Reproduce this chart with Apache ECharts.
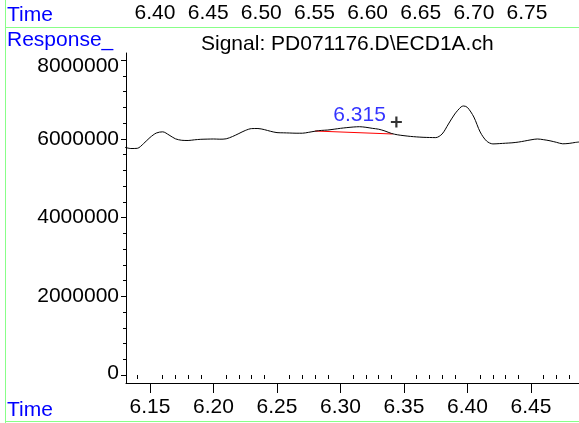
<!DOCTYPE html>
<html>
<head>
<meta charset="utf-8">
<script src="https://cdn.jsdelivr.net/npm/echarts@6/dist/echarts.min.js"></script>
<style>
  html, body { margin: 0; padding: 0; background: #fff; }
  #chart { width: 579px; height: 423px; }
</style>
</head>
<body>
<div id="chart"></div>
<script>
// retention time (min) and detector response
const times = [
  6.130, 6.135, 6.140, 6.145, 6.150, 6.155, 6.160, 6.165, 6.170, 6.175,
  6.180, 6.185, 6.190, 6.195, 6.200, 6.205, 6.210, 6.215, 6.220, 6.225,
  6.230, 6.235, 6.240, 6.245, 6.250, 6.255, 6.260, 6.265, 6.270, 6.275,
  6.280, 6.285, 6.290, 6.295, 6.300, 6.305, 6.310, 6.315, 6.320, 6.325,
  6.330, 6.335, 6.340, 6.345, 6.350, 6.355, 6.360, 6.365, 6.370, 6.375,
  6.380, 6.385, 6.390, 6.395, 6.397, 6.400, 6.405, 6.410, 6.415, 6.420,
  6.425, 6.430, 6.435, 6.440, 6.445, 6.450, 6.455, 6.460, 6.465, 6.470,
  6.475, 6.480, 6.485, 6.490
];
const response = [
  5785000, 5752000, 5757000, 5879000, 6032000, 6146000, 6176000, 6095000, 5999000, 5961000,
  5956000, 5973000, 5986000, 5991000, 5994000, 5989000, 5999000, 6057000, 6133000, 6210000,
  6258000, 6260000, 6232000, 6189000, 6156000, 6151000, 6146000, 6141000, 6141000, 6164000,
  6192000, 6212000, 6222000, 6243000, 6265000, 6283000, 6298000, 6306000, 6291000, 6265000,
  6243000, 6197000, 6136000, 6100000, 6078000, 6060000, 6047000, 6037000, 6032000, 6029000,
  6121000, 6375000, 6629000, 6811000, 6832000, 6794000, 6552000, 6171000, 5943000, 5869000,
  5877000, 5887000, 5897000, 5915000, 5943000, 5973000, 5994000, 5976000, 5948000, 5910000,
  5872000, 5882000, 5907000, 5925000
];

// integration baseline under the 6.315 peak
const baselineTimes = [6.280, 6.341];
const baselineValues = [6197000, 6121000];

// peak label and end marker
const peakTimes = [6.315];
const peakValues = [6306000];
const peakNames = ["6.315"];
const crossTimes = [6.344];
const crossValues = [6425000];

// axis ticks
const xMajorTicks = [6.15, 6.20, 6.25, 6.30, 6.35, 6.40, 6.45];
const xMinorTicks = [
  6.14, 6.16, 6.17, 6.18, 6.19, 6.21, 6.22, 6.23, 6.24, 6.26, 6.27, 6.28, 6.29,
  6.31, 6.32, 6.33, 6.34, 6.36, 6.37, 6.38, 6.39, 6.41, 6.42, 6.43, 6.44,
  6.46, 6.47, 6.48
];
const yMajorTicks = [0, 2000000, 4000000, 6000000, 8000000];
const yMinorTicks = [
  400000, 800000, 1200000, 1600000, 2400000, 2800000, 3200000, 3600000,
  4400000, 4800000, 5200000, 5600000, 6400000, 6800000, 7200000, 7600000
];
// time labels of the panel above (cut off)
const topTimeLabels = [6.40, 6.45, 6.50, 6.55, 6.60, 6.65, 6.70, 6.75];

const FONT = "Liberation Sans";
const GREEN = "#88ff88";
const BLUE = "#0000ff";

const chart = echarts.init(document.getElementById("chart"), null, { renderer: "canvas" });

const xRange = { min: 6.1311, max: 6.4878 };
const yRange = { min: -203000, max: 8178000 };

const textStyle = (color) => ({ fontFamily: FONT, fontSize: 21, fontWeight: "normal", color });

const option = {
  animation: false,
  backgroundColor: "#fff",
  title: [
    { text: "Signal: PD071176.D\\ECD1A.ch", left: 201, top: 34, padding: 0, textStyle: textStyle("#000") },
    { text: "Time", left: 7, top: 5, padding: 0, textStyle: textStyle(BLUE) },
    { text: "Response_", left: 7, top: 30, padding: 0, textStyle: textStyle(BLUE) },
    { text: "Time", left: 7, top: 400, padding: 0, textStyle: textStyle(BLUE) }
  ],
  grid: [
    { left: 126, right: 0, top: 53, bottom: 40 },
    { left: 126, right: 0, top: 0, height: 1 }
  ],
  xAxis: [
    {
      type: "value", gridIndex: 0, position: "bottom", ...xRange,
      splitLine: { show: false },
      axisLine: { show: true, onZero: false, lineStyle: { color: "#000", width: 1 } },
      axisTick: { show: true, customValues: xMajorTicks, length: 10, lineStyle: { color: "#000" } },
      axisLabel: {
        customValues: xMajorTicks, margin: 14, color: "#000", fontFamily: FONT, fontSize: 21,
        formatter: (v) => v.toFixed(2)
      }
    },
    {
      type: "value", gridIndex: 0, position: "bottom", ...xRange,
      splitLine: { show: false },
      axisLine: { show: false },
      axisTick: { show: true, customValues: xMinorTicks, length: 4, lineStyle: { color: "#000" } },
      axisLabel: { show: false }
    },
    {
      type: "value", gridIndex: 1, position: "bottom", min: 6.3727, max: 6.7989,
      splitLine: { show: false },
      axisLine: { show: false },
      axisTick: { show: false },
      axisLabel: {
        customValues: topTimeLabels, margin: 2, color: "#000", fontFamily: FONT, fontSize: 21,
        formatter: (v) => v.toFixed(2)
      }
    }
  ],
  yAxis: [
    {
      type: "value", gridIndex: 0, position: "left", ...yRange,
      splitLine: { show: false },
      axisLine: { show: true, onZero: false, lineStyle: { color: "#000", width: 1 } },
      axisTick: { show: true, customValues: yMajorTicks, length: 5, lineStyle: { color: "#000" } },
      axisLabel: {
        customValues: yMajorTicks, margin: 7, color: "#000", fontFamily: FONT, fontSize: 21,
        // the top and bottom labels are nudged inward like in the instrument printout
        formatter: (v) => (v === 8000000 ? "{dn|" + v + "}" : v === 0 ? "{up|" + v + "}" : String(v)),
        rich: {
          dn: { fontFamily: FONT, fontSize: 21, color: "#000", padding: [12, 0, 0, 0] },
          up: { fontFamily: FONT, fontSize: 21, color: "#000", padding: [0, 0, 4, 0] }
        }
      }
    },
    {
      type: "value", gridIndex: 0, position: "left", ...yRange,
      splitLine: { show: false },
      axisLine: { show: false },
      axisTick: { show: true, customValues: yMinorTicks, length: 3, lineStyle: { color: "#000" } },
      axisLabel: { show: false }
    },
    { type: "value", gridIndex: 1, show: false, min: 0, max: 1 }
  ],
  series: [
    {
      name: "signal",
      type: "line",
      xAxisIndex: 0,
      yAxisIndex: 0,
      data: times.map((t, i) => [t, response[i]]),
      showSymbol: false,
      smooth: 0.3,
      lineStyle: { color: "#000", width: 1 },
      clip: true
    },
    {
      name: "baseline",
      type: "line",
      xAxisIndex: 0,
      yAxisIndex: 0,
      data: baselineTimes.map((t, i) => [t, baselineValues[i]]),
      showSymbol: false,
      lineStyle: { color: "#ff0000", width: 1 },
      z: 1
    },
    {
      name: "peak",
      type: "scatter",
      xAxisIndex: 0,
      yAxisIndex: 0,
      data: peakTimes.map((t, i) => ({ value: [t, peakValues[i]], name: peakNames[i] })),
      symbolSize: 0,
      label: {
        show: true, position: "top", distance: 1,
        formatter: (p) => p.name,
        color: BLUE, fontFamily: FONT, fontSize: 21
      }
    },
    {
      name: "cross",
      type: "scatter",
      xAxisIndex: 0,
      yAxisIndex: 0,
      data: crossTimes.map((t, i) => [t, crossValues[i]]),
      symbol: "path://M4,0H6V4H10V6H6V10H4V6H0V4H4Z",
      symbolSize: 11,
      itemStyle: { color: "#000" }
    }
  ],
  graphic: [
    { type: "rect", shape: { x: 5, y: 0, width: 1, height: 423 }, style: { fill: GREEN } },
    { type: "rect", shape: { x: 5, y: 27, width: 574, height: 1 }, style: { fill: GREEN } },
    { type: "rect", shape: { x: 5, y: 421, width: 574, height: 1 }, style: { fill: GREEN } }
  ]
};

chart.setOption(option);
window.addEventListener("resize", () => chart.resize());
</script>
</body>
</html>
